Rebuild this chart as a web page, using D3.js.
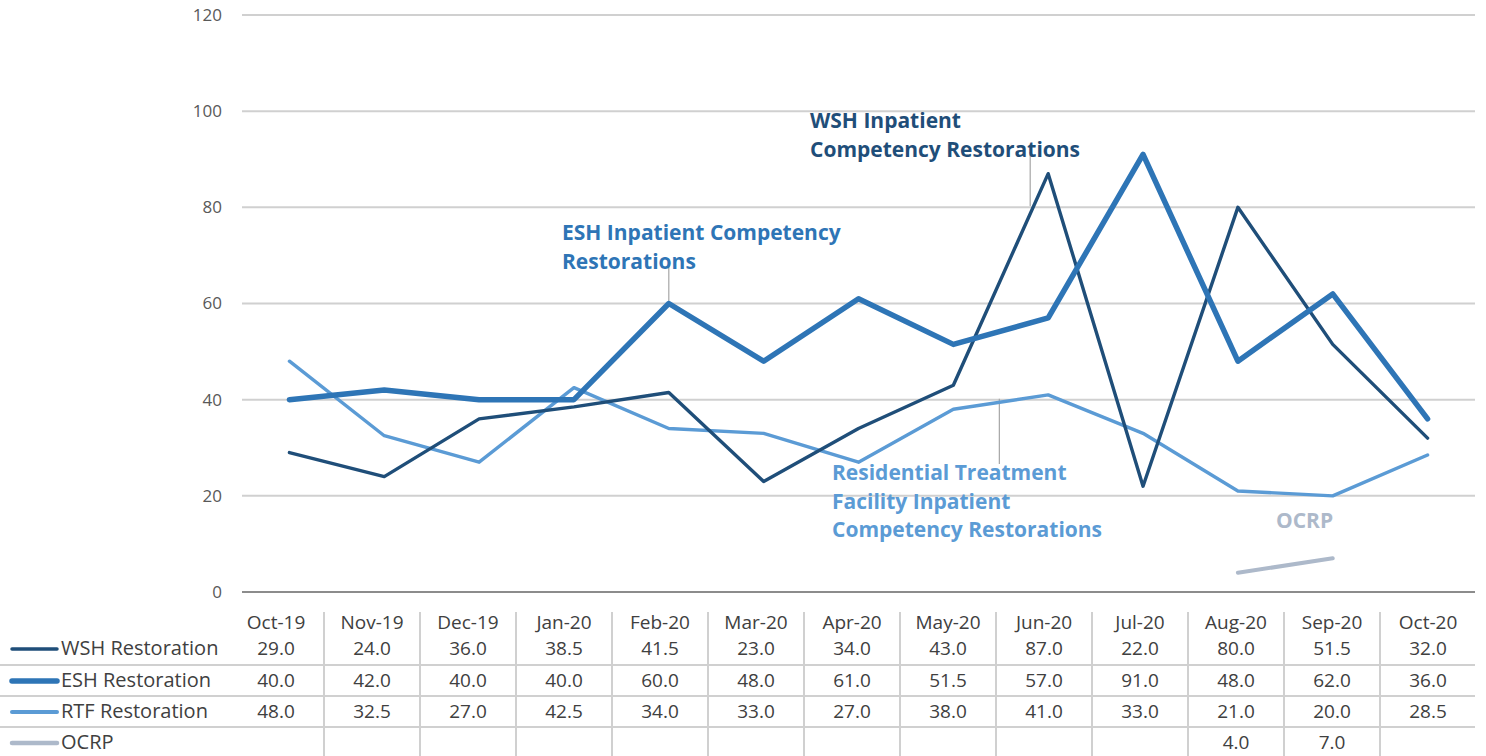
<!DOCTYPE html>
<html>
<head>
<meta charset="utf-8">
<script src="https://cdn.jsdelivr.net/npm/d3@7"></script>
<style>
  html, body { margin: 0; padding: 0; background: #ffffff; }
  svg { display: block; }
</style>
</head>
<body>
<svg id="chart" width="1486" height="756"></svg>
<script>
const months = ["Oct-19","Nov-19","Dec-19","Jan-20","Feb-20","Mar-20","Apr-20","May-20","Jun-20","Jul-20","Aug-20","Sep-20","Oct-20"];
const wsh  = [29.0, 24.0, 36.0, 38.5, 41.5, 23.0, 34.0, 43.0, 87.0, 22.0, 80.0, 51.5, 32.0];
const esh  = [40.0, 42.0, 40.0, 40.0, 60.0, 48.0, 61.0, 51.5, 57.0, 91.0, 48.0, 62.0, 36.0];
const rtf  = [48.0, 32.5, 27.0, 42.5, 34.0, 33.0, 27.0, 38.0, 41.0, 33.0, 21.0, 20.0, 28.5];
const ocrp = [null, null, null, null, null, null, null, null, null, null, 4.0, 7.0, null];
const yTicks = [0, 20, 40, 60, 80, 100, 120];
const seriesNames = ["WSH Restoration", "ESH Restoration", "RTF Restoration", "OCRP"];

const series = [
  {name: seriesNames[0], values: wsh,  color: "#1f4e79", width: 3.4, legendW: 3.5},
  {name: seriesNames[1], values: esh,  color: "#2e75b6", width: 5.5, legendW: 5.5},
  {name: seriesNames[2], values: rtf,  color: "#5b9bd5", width: 3.4, legendW: 4},
  {name: seriesNames[3], values: ocrp, color: "#adb9ca", width: 4,   legendW: 4.5}
];

const svg = d3.select("#chart");
const font = "'Open Sans', 'DejaVu Sans', sans-serif";
const boldFont = "'Open Sans', Lato, sans-serif";

const x = d3.scalePoint().domain(months).range([242, 1475]).padding(0.5);
const y = d3.scaleLinear().domain([0, 120]).range([592, 15]);
const tx = d3.scaleBand().domain(months).range([228, 1476]);

// gridlines
const grid = svg.append("g");
grid.selectAll("line").data(yTicks.filter(d => d > 0)).join("line")
  .attr("x1", 242).attr("x2", 1475)
  .attr("y1", d => y(d)).attr("y2", d => y(d))
  .attr("stroke", "#d0d0d0").attr("stroke-width", 2);

// y axis labels
const yAxis = d3.axisLeft(y).tickValues(yTicks).tickSize(0).tickPadding(0).tickFormat(d3.format("d"));
const ya = svg.append("g").attr("transform", "translate(222,0)").call(yAxis)
  .attr("font-size", null).attr("font-family", null);
ya.select(".domain").remove();
ya.selectAll("text").style("font-family", font).style("font-size", "17px").attr("fill", "#595959");

// baseline
svg.append("line").attr("x1", 242).attr("x2", 1475).attr("y1", y(0)).attr("y2", y(0))
  .attr("stroke", "#8c8c8c").attr("stroke-width", 2);

// leader lines
const leaders = [
  {x: x("Jun-20") - 18, y1: 152, y2: 206},
  {x: x("Feb-20"), y1: 266, y2: y(60)},
  {x: x("May-20") + 46, y1: y(40) - 1, y2: 464}
];
svg.append("g").selectAll("line").data(leaders).join("line")
  .attr("x1", d => d.x).attr("x2", d => d.x)
  .attr("y1", d => d.y1).attr("y2", d => d.y2)
  .attr("stroke", "#a6a6a6").attr("stroke-width", 1.2);

// lines
const line = d3.line()
  .defined(d => d.v !== null)
  .x(d => x(d.m)).y(d => y(d.v));
const drawOrder = [3, 2, 0, 1];
drawOrder.forEach(i => {
  const s = series[i];
  svg.append("path")
    .datum(months.map((m, j) => ({m, v: s.values[j]})))
    .attr("d", line)
    .attr("fill", "none")
    .attr("stroke", s.color)
    .attr("stroke-width", s.width)
    .attr("stroke-linejoin", "round")
    .attr("stroke-linecap", "round");
});

// annotations
const notes = [
  {lines: ["WSH Inpatient", "Competency Restorations"], x: 810, y: 128, color: "#1f4e79"},
  {lines: ["ESH Inpatient Competency", "Restorations"], x: 562, y: 240, color: "#2e75b6"},
  {lines: ["Residential Treatment", "Facility Inpatient", "Competency Restorations"], x: 832, y: 480, color: "#5b9bd5"},
  {lines: ["OCRP"], x: 1276, y: 528, color: "#adb9ca"}
];
notes.forEach(n => {
  const t = svg.append("text").attr("x", n.x).attr("y", n.y)
    .attr("font-family", boldFont).attr("font-weight", "bold")
    .attr("font-size", 21).attr("fill", n.color);
  n.lines.forEach((l, k) => {
    t.append("tspan").attr("x", n.x).attr("dy", k === 0 ? 0 : 28.5).text(l);
  });
});

// data table
const table = svg.append("g");
const rowLinesY = [665, 696, 727];
table.selectAll("line.h").data(rowLinesY).join("line").attr("class", "h")
  .attr("x1", 0).attr("x2", 1475).attr("y1", d => d).attr("y2", d => d)
  .attr("stroke", "#d0d0d0").attr("stroke-width", 2);
table.selectAll("line.v").data(months.slice(1)).join("line").attr("class", "v")
  .attr("x1", d => tx(d)).attr("x2", d => tx(d)).attr("y1", 612).attr("y2", 756)
  .attr("stroke", "#d0d0d0").attr("stroke-width", 2);

const fs = 19;
const headerY = 622;
const rowY = [648, 680, 711, 742];
table.selectAll("text.hdr").data(months).join("text").attr("class", "hdr")
  .attr("x", d => tx(d) + tx.bandwidth() / 2).attr("y", headerY)
  .attr("dy", "0.35em").attr("text-anchor", "middle")
  .attr("font-family", font).attr("font-size", fs).attr("fill", "#404040")
  .text(d => d);

series.forEach((s, i) => {
  const g = table.append("g");
  g.append("line").attr("x1", 12).attr("x2", 57).attr("y1", rowY[i] + 1).attr("y2", rowY[i] + 1)
    .attr("stroke", s.color).attr("stroke-width", s.legendW).attr("stroke-linecap", "round");
  g.append("text").attr("x", 61).attr("y", rowY[i]).attr("dy", "0.35em")
    .attr("font-family", font).attr("font-size", 20).attr("fill", "#404040").text(s.name);
  g.selectAll("text.v").data(months.map((m, j) => ({m, v: s.values[j]})).filter(d => d.v !== null))
    .join("text").attr("class", "v")
    .attr("x", d => tx(d.m) + tx.bandwidth() / 2).attr("y", rowY[i]).attr("dy", "0.35em")
    .attr("text-anchor", "middle")
    .attr("font-family", font).attr("font-size", fs).attr("fill", "#404040")
    .text(d => d3.format(".1f")(d.v));
});
</script>
</body>
</html>
